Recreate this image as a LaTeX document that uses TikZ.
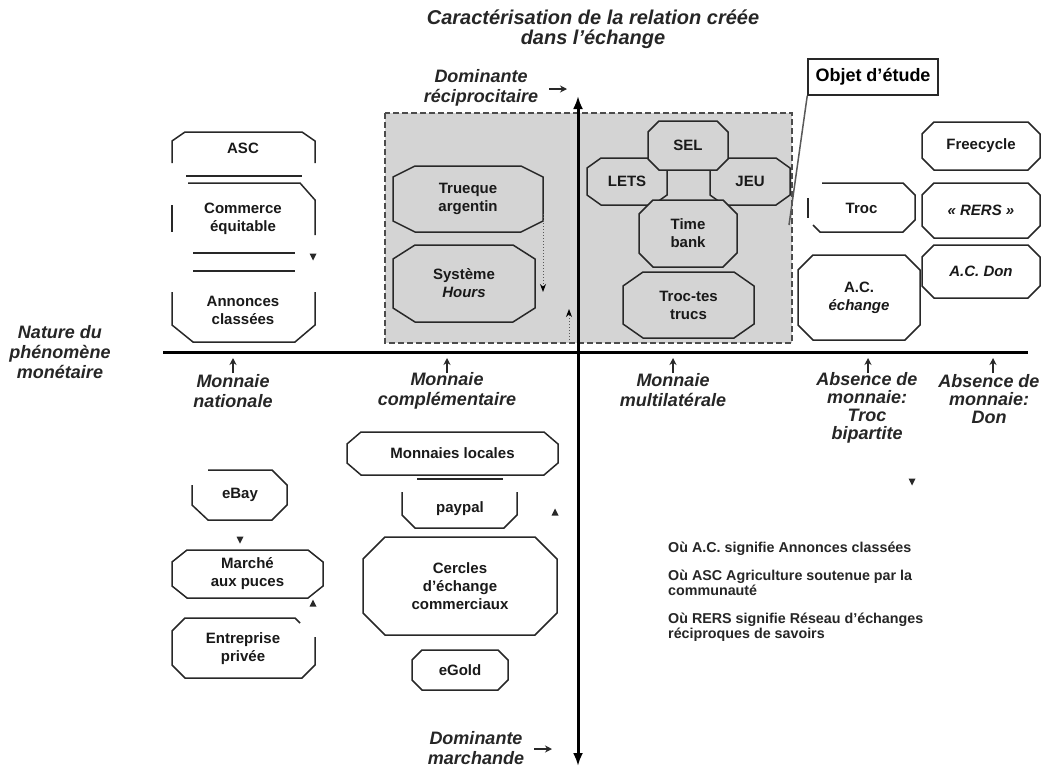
\documentclass[tikz,border=0pt]{standalone}
\usepackage{fontspec}
\setmainfont{Liberation Sans}
\usetikzlibrary{arrows.meta}
\definecolor{zone}{RGB}{212,212,212}
\definecolor{ink}{RGB}{40,40,40}

% octagon outline: style, cx, cy, half width, half height, chamfer x, chamfer y
\newcommand\octo[7]{%
  \draw[#1] ({#2-#4+#6},{#3-#5}) -- ({#2+#4-#6},{#3-#5}) -- ({#2+#4},{#3-#5+#7})
    -- ({#2+#4},{#3+#5-#7}) -- ({#2+#4-#6},{#3+#5}) -- ({#2-#4+#6},{#3+#5})
    -- ({#2-#4},{#3+#5-#7}) -- ({#2-#4},{#3-#5+#7}) -- cycle;}
% octagon box with its label node: style, name, cx, cy, hw, hh, chx, chy, text
\newcommand\obox[9]{\octo{#1}{#3}{#4}{#5}{#6}{#7}{#8}\node[lbl] (#2) at (#3,#4) {#9};}
% small solid triangles
\newcommand\tridown[2]{\fill[ink] ({#1-3.5},{#2-3.5}) -- ({#1+3.5},{#2-3.5}) -- (#1,{#2+3.5}) -- cycle;}
\newcommand\triup[2]{\fill[ink] ({#1-3.5},{#2+3.5}) -- ({#1+3.5},{#2+3.5}) -- (#1,{#2-3.5}) -- cycle;}

\begin{document}
\begin{tikzpicture}[x=1pt,y=-1pt,
  boxline/.style={draw=ink,line width=1.5pt,line join=miter},
  zonebox/.style={boxline,fill=zone},
  lbl/.style={font=\fontsize{15}{18}\selectfont\bfseries,align=center,text=black!90,inner sep=0pt},
  axlbl/.style={font=\fontsize{18}{20}\selectfont\bfseries\itshape,align=center,text=black!85,inner sep=0pt},
  note/.style={font=\fontsize{14.3}{15}\selectfont\bfseries,align=left,anchor=north west,text=black!85,inner sep=0pt},
  axis/.style={line width=3pt,black},
  tickarrow/.style={line width=1.7pt,ink,-{Stealth[length=7pt,width=7pt]}},
  dotarrow/.style={dotted,line width=1pt,black!65,-{Stealth[length=8pt,width=6pt,black]}},
]
\useasboundingbox (0,0) rectangle (1042,777);
\fill[white] (0,0) rectangle (1042,777);

% studied zone
\fill[zone] (385,113) rectangle (792,343);
\draw[dashed,line width=1.4pt,black!70,dash pattern=on 6pt off 3pt] (385,113) rectangle (792,343);

% axes
\draw[axis,{Latex[length=13pt,width=10pt]}-{Latex[length=13pt,width=10pt]}] (578,766) -- (578,96);
\draw[axis] (163,352) -- (1028,352);

% axis titles
\node[axlbl,font=\fontsize{20}{20}\selectfont\bfseries\itshape] (title) at (593,29) {Caractérisation de la relation créée\\dans l'échange};
\node[axlbl] (nature) at (60,352) {Nature du\\phénomène\\monétaire};
\node[axlbl] (domrec) at (481,88) {Dominante\\réciprocitaire};
\node[axlbl] (dommar) at (476,748) {Dominante\\marchande};
\coordinate (dr1) at (549,89); \coordinate (dr2) at (567,89);
\coordinate (dm1) at (534,749); \coordinate (dm2) at (552,749);
\draw[tickarrow] (dr1) -- (dr2);
\draw[tickarrow] (dm1) -- (dm2);

% categories along the horizontal axis
\node[axlbl] (mnat) at (233,391) {Monnaie\\nationale};
\node[axlbl] (mcomp) at (447,391) {Monnaie\\complémentaire};
\node[axlbl] (mmulti) at (673,390) {Monnaie\\multilatérale};
\node[axlbl,font=\fontsize{18}{18}\selectfont\bfseries\itshape] (troc) at (867,408) {Absence de\\monnaie:\\Troc\\bipartite};
\node[axlbl,font=\fontsize{18}{18}\selectfont\bfseries\itshape] (don) at (989,399) {Absence de\\monnaie:\\Don};
\foreach \n/\x in {mnat/233,mcomp/447,mmulti/673,troc/868,don/993}{
  \coordinate (\n-a) at (\x,373); \coordinate (\n-b) at (\x,358);
  \draw[tickarrow] (\n-a) -- (\n-b);
}

% national currency, upper part
\draw[boxline] (172,163) -- (172,141) -- (185,132) -- (302,132) -- (315,141) -- (315,163);
\node[lbl] (asc) at (243,148) {ASC};
\draw[boxline] (186,176) -- (302,176);
\draw[boxline] (188,183) -- (300,183) -- (315,200) -- (315,235);
\draw[boxline] (172,205) -- (172,232);
\node[lbl] (commerce) at (243,219) {Commerce\\équitable};
\draw[boxline] (193,253) -- (295,253);
\draw[boxline] (193,271) -- (295,271);
\tridown{313}{257}
\draw[boxline] (172,292) -- (172,325) -- (193,342) -- (295,342) -- (315,325) -- (315,292);
\node[lbl] (annonces) at (243,310) {Annonces\\classées};

% national currency, lower part
\draw[boxline] (208,470) -- (272,470) -- (287,485) -- (287,505) -- (272,520) -- (208,520) -- (192,505) -- (192,485);
\node[lbl] (ebay) at (240,495) {eBay};
\tridown{240}{540}
\obox{boxline}{marche}{247.5}{574}{75.5}{24}{15}{12}{Marché\\aux puces}
\triup{313}{603}
\draw[boxline] (300,623) -- (295,618) -- (185,618) -- (172,631) -- (172,665) -- (185,678) -- (302,678) -- (315,665) -- (315,637);
\node[lbl] (entreprise) at (243,649) {Entreprise\\privée};

% complementary currency, lower part
\obox{boxline}{locales}{452.5}{453.5}{105.5}{21.5}{14}{12}{Monnaies locales}
\draw[ink,line width=2.5pt] (417,479) -- (503,479);
\draw[boxline] (402,492) -- (402,515) -- (415,528) -- (504,528) -- (517,515) -- (517,492);
\node[lbl] (paypal) at (460,509) {paypal};
\triup{555}{512}
\obox{boxline}{cercles}{460}{586}{97}{49}{22}{22}{Cercles\\d'échange\\commerciaux}
\obox{boxline}{egold}{460}{670}{48}{20}{10}{10}{eGold}

% studied zone content
\obox{zonebox}{trueque}{468}{199}{75}{33}{22}{11}{Trueque\\argentin}
\obox{zonebox}{hours}{464}{283.5}{71}{38.5}{22}{14}{Système\\\itshape Hours}
\coordinate (t1) at (543,214); \coordinate (t2) at (543,292);
\draw[dotarrow] (t1) -- (t2);
\coordinate (u1) at (569,343); \coordinate (u2) at (569,309);
\draw[dotarrow] (u1) -- (u2);
\obox{zonebox}{lets}{627}{181.5}{40}{23.5}{14}{10}{LETS}
\obox{zonebox}{jeu}{750}{181.5}{40}{23.5}{14}{10}{JEU}
\obox{zonebox}{sel}{688}{145.5}{40}{24.5}{11}{11}{SEL}
\obox{zonebox}{timebank}{688}{233.5}{49}{33.5}{14}{14}{Time\\bank}
\obox{zonebox}{troctes}{688.5}{305}{65.5}{33}{20}{14}{Troc-tes\\trucs}

% label of the studied zone
\node[draw=ink,line width=1.5pt,fill=white,minimum width=130pt,minimum height=36pt,inner sep=0pt,
      font=\fontsize{18}{19}\selectfont\bfseries] (objet) at (873,77) {Objet d'étude};
\coordinate (objtip) at (789,225);
\draw[line width=1.5pt,black!65] (objet.south west) -- (objtip);

% absence of currency
\obox{boxline}{freecycle}{981}{146}{59}{24}{12}{12}{Freecycle}
\draw[boxline] (822,183) -- (903,183) -- (915,195) -- (915,220) -- (903,232) -- (820,232) -- (813,225);
\draw[boxline] (808,198) -- (808,218);
\node[lbl] (troc-box) at (861.5,208) {Troc};
\obox{boxline}{rers}{981}{210.5}{59}{27.5}{12}{12}{\itshape «~RERS~»}
\obox{boxline}{acdon}{981}{271.5}{59}{26.5}{12}{12}{\itshape A.C. Don}
\obox{boxline}{acech}{859}{297.5}{61}{42.5}{15}{15}{A.C.\\\itshape échange}
\tridown{912}{482}

% notes
\node[note] (n1) at (668,542) {Où A.C. signifie Annonces classées};
\node[note] (n2) at (668,570) {Où ASC Agriculture soutenue par la\\communauté};
\node[note] (n3) at (668,613) {Où RERS signifie Réseau d'échanges\\réciproques de savoirs};
\end{tikzpicture}
\end{document}
